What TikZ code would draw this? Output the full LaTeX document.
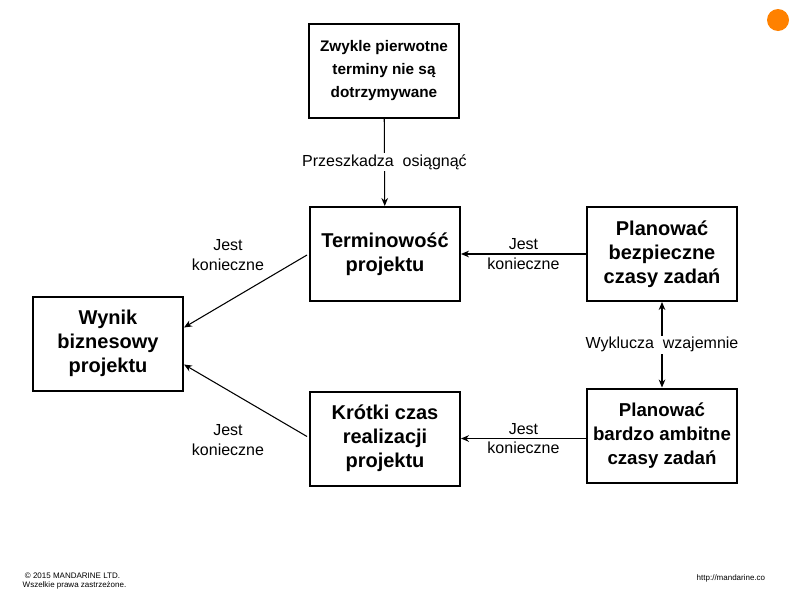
\documentclass[tikz,border=0pt]{standalone}
\usepackage{fontspec}
\setmainfont{Liberation Sans}
\usetikzlibrary{arrows.meta}
\begin{document}
\begin{tikzpicture}[x=0.75pt,y=-0.75pt,
 box/.style={draw,line width=1.5pt,minimum width=150*0.75pt,minimum height=94*0.75pt,align=center,font=\bfseries\fontsize{15}{18}\selectfont,inner sep=1pt},
 lbl/.style={align=center,font=\fontsize{12}{14.5}\selectfont},
 arr/.style={-{Stealth[length=6pt,width=5pt]},line width=0.8pt}]
\useasboundingbox (0,0) rectangle (800,600);
\node[box,font=\bfseries\fontsize{11.5}{17}\selectfont] (top) at (384,70.5) {Zwykle pierwotne\\terminy nie są\\dotrzymywane};
\node[box] (term) at (385,254) {Terminowość\\projektu};
\node[box] (bezp) at (662,254) {Planować\\bezpieczne\\czasy zadań};
\node[box] (wynik) at (108,343.5) {Wynik\\biznesowy\\projektu};
\node[box] (krot) at (385,438.5) {Krótki czas\\realizacji\\projektu};
\node[box,font=\bfseries\fontsize{14}{18}\selectfont] (amb) at (662,435.5) {Planować\\bardzo ambitne\\czasy zadań};
\fill[orange!90!red!90!yellow] (778,20) circle (11);
\draw[arr] (top) -- (term) node[midway,lbl,fill=white,inner sep=1pt] {Przeszkadza\ \ osiągnąć};
\draw[arr] (bezp.west) -- (term.east) node[midway,lbl] {Jest\\konieczne};
\draw[arr] (amb.west|-krot.east) -- (krot.east) node[midway,lbl] {Jest\\konieczne};
\draw[arr] ([shift={(-2,1)}]term.west) -- ([yshift=16*0.75pt]wynik.east);
\draw[arr] ([shift={(-2,-2)}]krot.west) -- ([yshift=-21*0.75pt]wynik.east);
\node[lbl] (l1) at (228,255) {Jest\\konieczne};
\node[lbl] (l2) at (228,440) {Jest\\konieczne};
\draw[{Stealth[length=6pt,width=5pt]}-{Stealth[length=6pt,width=5pt]},line width=0.8pt] (bezp) -- (amb) node[midway,lbl,fill=white,inner sep=1pt] {Wyklucza\ \ wzajemnie};
\node[anchor=west,align=left,font=\fontsize{6}{7}\selectfont] (f1) at (18,581) {\ © 2015 MANDARINE LTD.\\Wszelkie prawa zastrzeżone.};
\node[anchor=west,font=\fontsize{6}{7}\selectfont] (f2) at (692,578) {http://mandarine.co};
\end{tikzpicture}
\end{document}
